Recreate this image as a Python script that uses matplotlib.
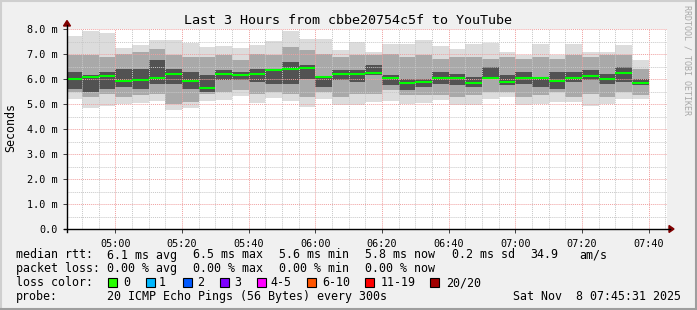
import matplotlib
matplotlib.use("Agg")
import matplotlib.pyplot as plt
from matplotlib.patches import Rectangle, Polygon
from matplotlib.lines import Line2D

W, H = 697, 310

# 5 minute steps (start time of each rrd step)
bar_start = ["04:45", "04:50", "04:55", "05:00", "05:05", "05:10", "05:15",
             "05:20", "05:25", "05:30", "05:35", "05:40", "05:45", "05:50",
             "05:55", "06:00", "06:05", "06:10", "06:15", "06:20", "06:25",
             "06:30", "06:35", "06:40", "06:45", "06:50", "06:55", "07:00",
             "07:05", "07:10", "07:15", "07:20", "07:25", "07:30", "07:35"]

# median rtt (ms)
median = [6.00, 6.07, 6.12, 5.91, 5.96, 6.04, 6.20, 5.91, 5.64, 6.19, 6.15, 6.19,
          6.36, 6.40, 6.44, 6.07, 6.19, 6.19, 6.24, 6.04, 5.83, 5.88, 6.04, 6.04,
          5.83, 6.04, 5.88, 6.06, 6.04, 5.91, 6.04, 6.12, 6.00, 6.23, 5.83]

# smoke: outer range (all pings)
smoke_max = [7.71, 7.91, 7.83, 7.24, 7.35, 7.55, 7.55, 7.44, 7.28, 7.31, 7.25, 7.35,
             7.51, 7.91, 7.61, 7.59, 7.15, 7.48, 7.10, 7.39, 7.39, 7.55, 7.31, 7.21,
             7.39, 7.44, 7.10, 6.97, 7.39, 6.95, 7.39, 7.10, 7.10, 7.35, 6.75]
smoke_min = [5.19, 4.84, 4.92, 5.01, 5.05, 5.11, 4.75, 4.84, 5.11, 5.15, 5.32, 5.05,
             5.24, 5.11, 4.88, 5.19, 4.97, 4.97, 5.08, 5.11, 5.01, 5.05, 5.15, 4.97,
             4.97, 5.19, 5.28, 4.97, 5.01, 5.08, 5.08, 4.92, 5.01, 5.21, 5.19]
# middle band
mid_hi = [6.95, 6.95, 6.88, 7.01, 7.08, 7.22, 6.95, 6.88, 6.88, 6.95, 6.75, 7.01,
          6.95, 7.28, 7.15, 7.01, 6.88, 6.95, 6.95, 7.01, 6.88, 6.95, 6.81, 6.88,
          6.88, 6.81, 6.88, 6.81, 6.88, 6.81, 6.95, 6.88, 6.95, 6.95, 6.41]
mid_lo = [5.48, 5.28, 5.41, 5.28, 5.35, 5.41, 5.01, 5.08, 5.41, 5.48, 5.55, 5.41,
          5.48, 5.41, 5.28, 5.48, 5.28, 5.41, 5.41, 5.55, 5.35, 5.35, 5.35, 5.28,
          5.35, 5.48, 5.48, 5.28, 5.35, 5.48, 5.28, 5.41, 5.28, 5.48, 5.35]
# dark core
core_hi = [6.28, 6.15, 6.28, 6.41, 6.41, 6.75, 6.41, 6.28, 6.15, 6.35, 6.28, 6.41,
           6.41, 6.68, 6.55, 6.08, 6.35, 6.35, 6.55, 6.15, 6.01, 6.01, 6.28, 6.21,
           6.08, 6.48, 6.15, 6.28, 6.08, 6.28, 6.28, 6.35, 6.21, 6.48, 6.01]
core_lo = [5.61, 5.48, 5.61, 5.68, 5.61, 5.81, 5.81, 5.61, 5.48, 5.95, 5.95, 5.88,
           5.81, 5.81, 6.01, 5.68, 5.95, 5.88, 6.15, 5.75, 5.55, 5.68, 5.81, 5.75,
           5.68, 6.01, 5.75, 5.81, 5.68, 5.61, 5.88, 5.95, 5.81, 5.88, 5.75]

x_ticks = ["05:00", "05:20", "05:40", "06:00", "06:20", "06:40", "07:00", "07:20", "07:40"]
y_ticks = [0, 1, 2, 3, 4, 5, 6, 7, 8]

loss_labels = ["0", "1", "2", "3", "4-5", "6-10", "11-19", "20/20"]
loss_colors = ["#26ff00", "#00b8ff", "#0059ff", "#7e00ff", "#ff00ff", "#ff5500", "#ff0000", "#a10000"]
loss_box_x = [108, 145.5, 182.5, 219.5, 256.5, 307, 365, 430]
loss_text_x = [123, 158.3, 196.7, 234.3, 270.7, 322.3, 380.7, 445.7]

t_start, t_end = 4 * 60 + 45 + 31 / 60, 7 * 60 + 45 + 31 / 60


def mins(s):
    h, m = s.split(":")
    return int(h) * 60 + int(m)


def fx(p):
    return p / W


def fy(p):
    return 1 - p / H


mono = "DejaVu Sans Mono"
fig = plt.figure(figsize=(W / 100, H / 100), dpi=100, facecolor="#f0f0f0")
ax = fig.add_axes([fx(67), fy(229), 600 / W, 200 / H])
ax.set_facecolor("white")

xs = [mins(s) for s in bar_start]
ax.bar(xs, [a - b for a, b in zip(smoke_max, smoke_min)], bottom=smoke_min, width=5,
       align="edge", color="#dcdcdc", linewidth=0, zorder=1)
ax.bar(xs, [a - b for a, b in zip(mid_hi, mid_lo)], bottom=mid_lo, width=5,
       align="edge", color="#a9a9a9", linewidth=0, zorder=1.1)
ax.bar(xs, [a - b for a, b in zip(core_hi, core_lo)], bottom=core_lo, width=5,
       align="edge", color="#525252", linewidth=0, zorder=1.2)
ax.hlines(median, xs, [x + 5 for x in xs], colors="#00ff00", linewidth=1.5, zorder=3)

ax.set_xlim(t_start, t_end)
ax.set_ylim(0, 8)
ax.set_xticks([mins(s) for s in x_ticks])
ax.set_xticklabels(x_ticks, fontfamily=mono, fontsize=7.3)
ax.set_xticks(range(mins("04:50"), int(t_end) + 1, 5), minor=True)
ax.set_yticks(y_ticks)
ax.set_yticklabels(["0.0"] + ["%.1f m" % v for v in y_ticks[1:]], fontfamily=mono, fontsize=7.3)
ax.set_yticks([v + 0.5 for v in y_ticks[:-1]], minor=True)
ax.tick_params(which="major", length=3, width=0.7, color="#404040", pad=4)
ax.tick_params(which="minor", length=0)

ax.set_axisbelow(False)
ax.grid(which="minor", color="#c8c8c8", linestyle=(0, (1, 1)), linewidth=0.7)
ax.grid(which="major", color="#f0a0a0", linestyle=(0, (1, 1)), linewidth=0.7)
for s in ax.spines.values():
    s.set_visible(False)

# axes lines with arrows
fig.add_artist(Line2D([fx(64), fx(670)], [fy(229), fy(229)], color="black", lw=1, transform=fig.transFigure))
fig.add_artist(Line2D([fx(67), fx(67)], [fy(232), fy(25)], color="black", lw=1, transform=fig.transFigure))
fig.add_artist(Polygon([[fx(669), fy(225.5)], [fx(669), fy(232.5)], [fx(674), fy(229)]],
                       closed=True, color="#800000", transform=fig.transFigure))
fig.add_artist(Polygon([[fx(63.5), fy(26)], [fx(70.5), fy(26)], [fx(67), fy(20.5)]],
                       closed=True, color="#800000", transform=fig.transFigure))

fig.text(fx(348), fy(24), "Last 3 Hours from cbbe20754c5f to YouTube", ha="center",
         va="baseline", fontfamily=mono, fontsize=9.6)
fig.text(fx(11), fy(128), "Seconds", rotation=90, ha="center", va="center",
         fontfamily=mono, fontsize=8.4)
fig.text(fx(687), fy(5), "RRDTOOL / TOBI OETIKER", rotation=-90, ha="center", va="top",
         fontfamily=mono, fontsize=6, color="#a8a8a8")

rows = [
    (258.5, [(16.3, "median rtt:"), (107.3, "6.1 ms avg"), (193.3, "6.5 ms max"),
             (279.3, "5.6 ms min"), (365.3, "5.8 ms now"), (451.7, "0.2 ms sd"),
             (530, "34.9"), (579.3, "am/s")]),
    (272, [(16.3, "packet loss:"), (107.3, "0.00 % avg"), (193.3, "0.00 % max"),
           (279.3, "0.00 % min"), (365.3, "0.00 % now")]),
    (286, [(16.3, "loss color:")]),
    (300, [(16.3, "probe:"), (107.3, "20 ICMP Echo Pings (56 Bytes) every 300s")]),
]
for yb, items in rows:
    for xp, txt in items:
        fig.text(fx(xp), fy(yb), txt, ha="left", va="baseline", fontfamily=mono, fontsize=8.4)
fig.text(fx(681), fy(300), "Sat Nov  8 07:45:31 2025", ha="right", va="baseline",
         fontfamily=mono, fontsize=8.4)

for bx, tx, lab, col in zip(loss_box_x, loss_text_x, loss_labels, loss_colors):
    fig.add_artist(Rectangle((fx(bx), fy(287)), 9 / W, 9 / H, facecolor=col,
                             edgecolor="black", lw=0.8, transform=fig.transFigure))
    fig.text(fx(tx), fy(286), lab, ha="left", va="baseline", fontfamily=mono, fontsize=8.4)

# frame shading
fig.add_artist(Line2D([0, 1], [fy(1), fy(1)], color="#cfcfcf", lw=1.5, transform=fig.transFigure))
fig.add_artist(Line2D([fx(1), fx(1)], [0, 1], color="#cfcfcf", lw=1.5, transform=fig.transFigure))
fig.add_artist(Line2D([0, 1], [fy(309), fy(309)], color="#9e9e9e", lw=1.5, transform=fig.transFigure))
fig.add_artist(Line2D([fx(696), fx(696)], [0, 1], color="#9e9e9e", lw=1.5, transform=fig.transFigure))

fig.savefig("out.png", dpi=100, facecolor=fig.get_facecolor())
